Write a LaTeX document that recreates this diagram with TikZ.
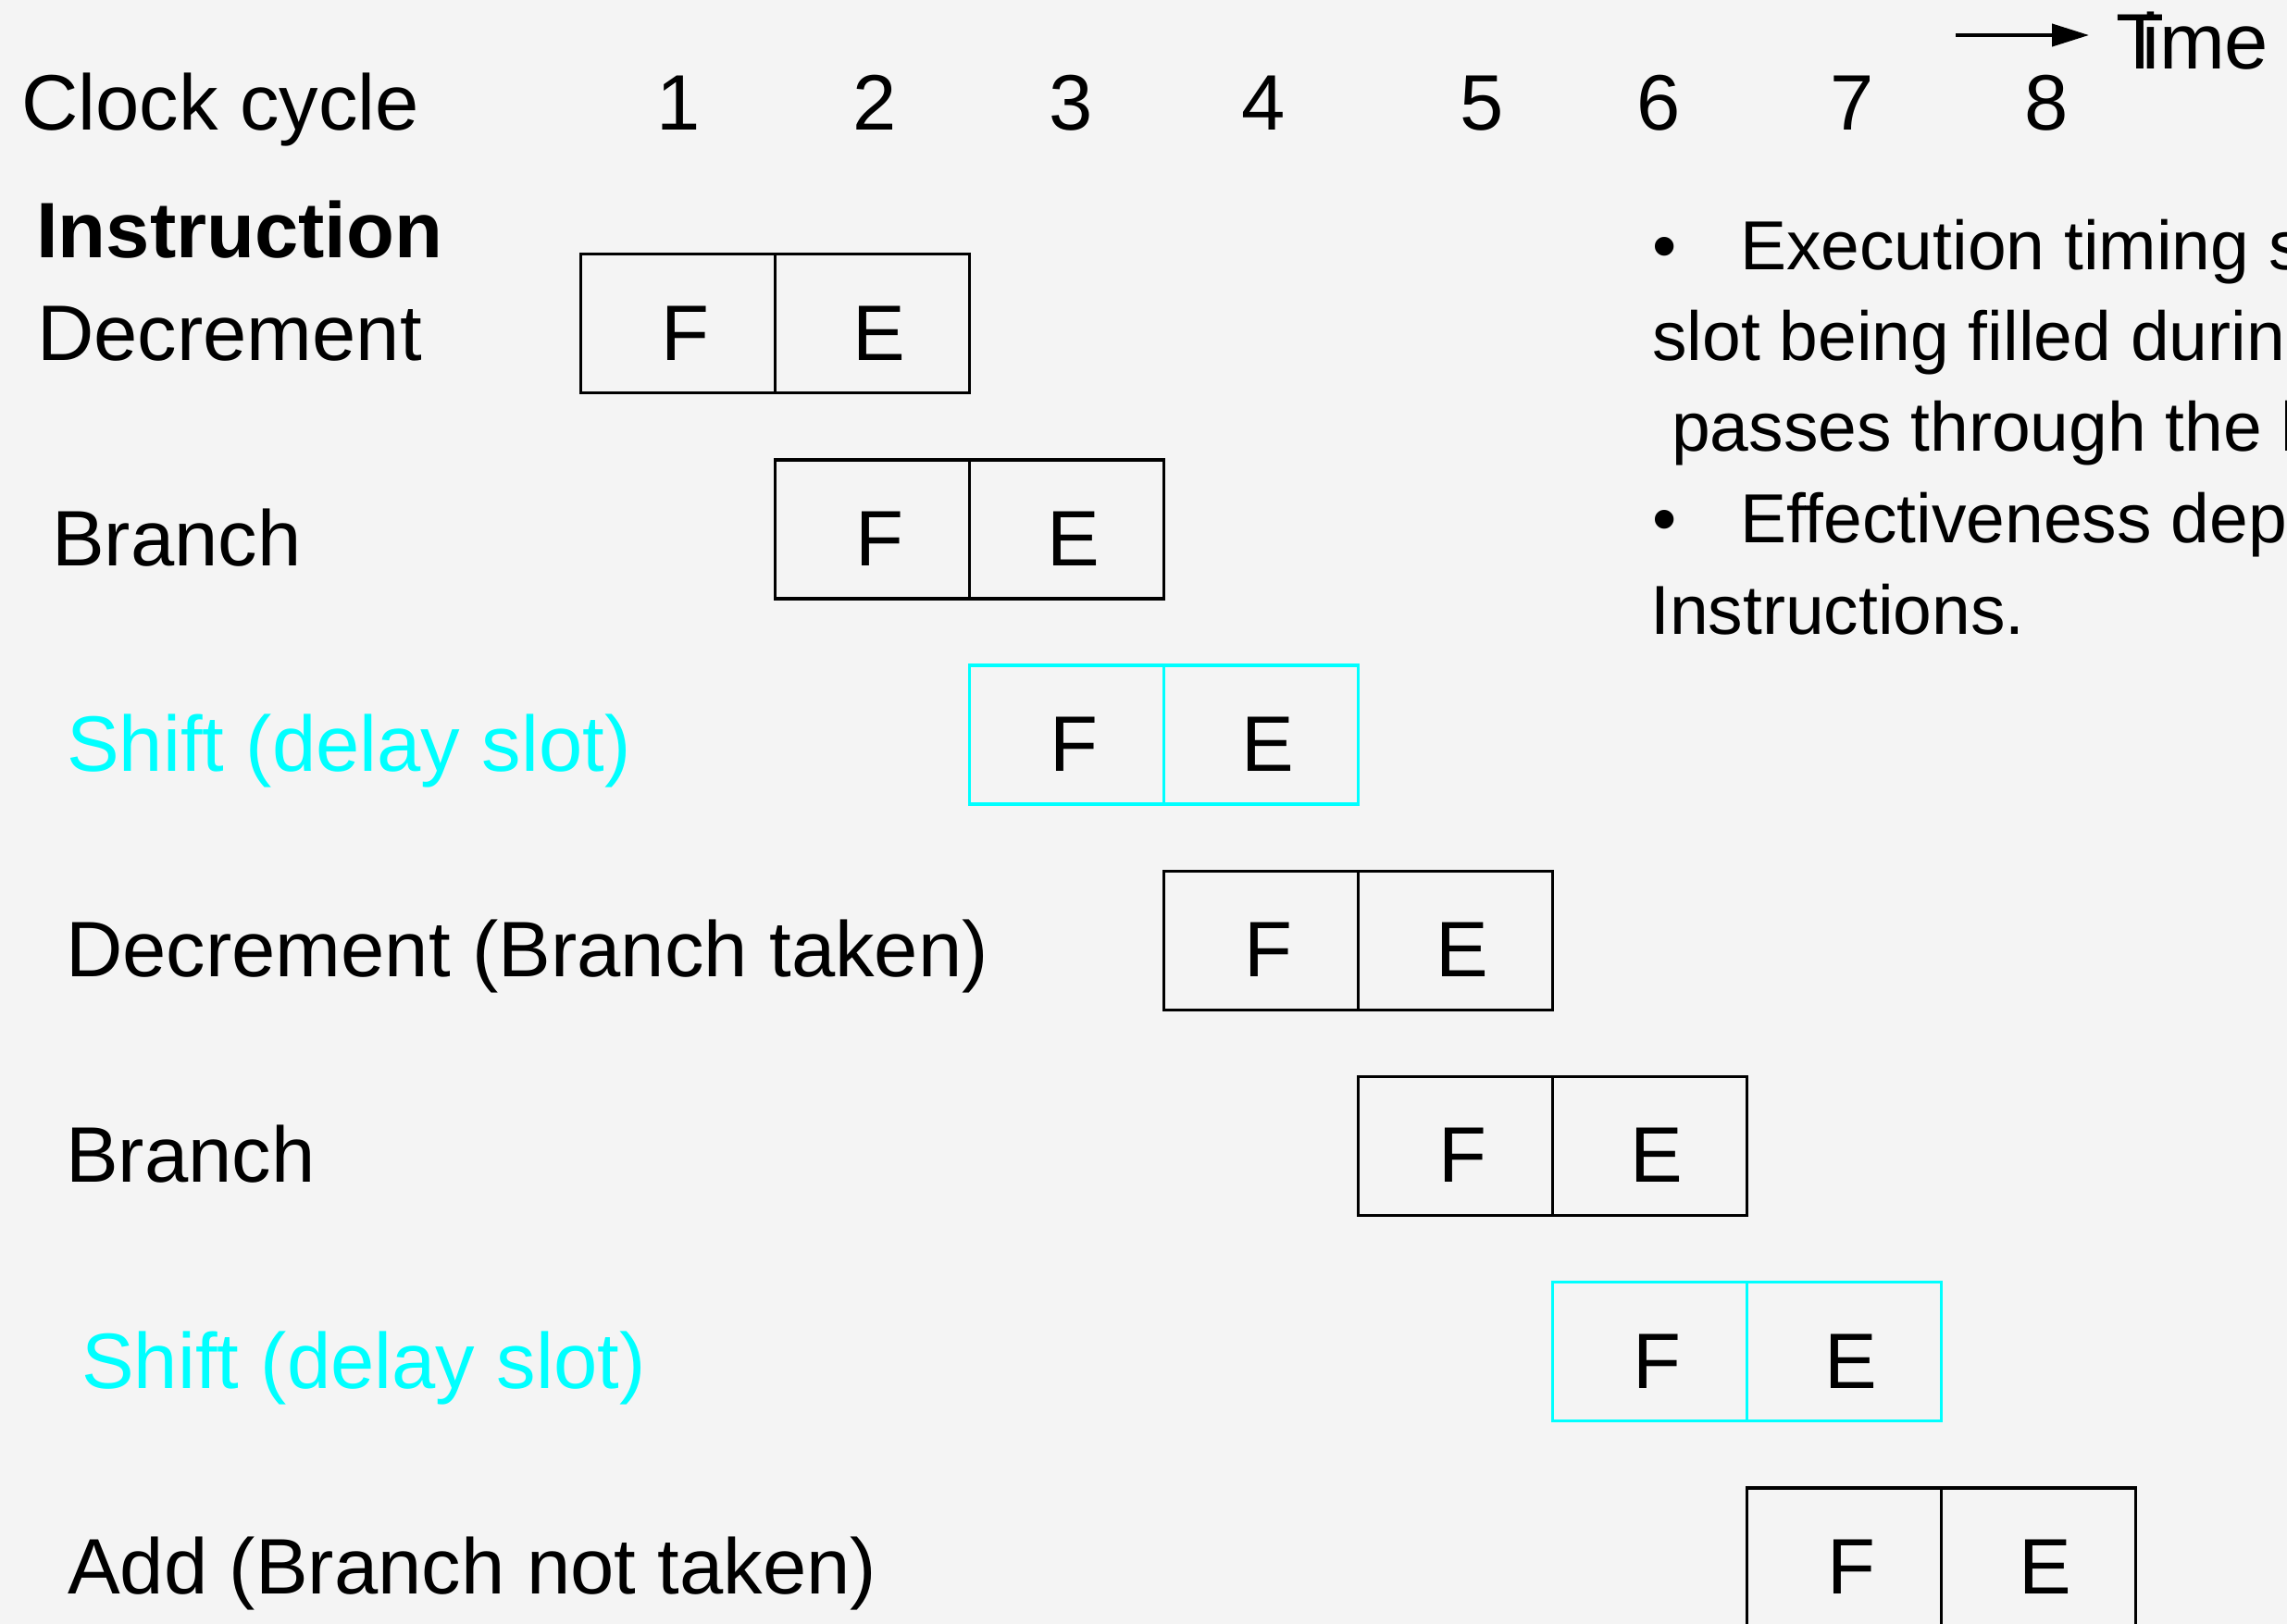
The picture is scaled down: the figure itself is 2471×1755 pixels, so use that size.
\documentclass[tikz,border=0pt]{standalone}
\usepackage{fontspec}
\setmainfont{Liberation Sans}
\usetikzlibrary{arrows.meta}
\definecolor{bg}{HTML}{F4F4F4}
\definecolor{slotc}{HTML}{00FFFF}
\begin{document}
\begin{tikzpicture}[x=1pt,y=-1pt,
  big/.style={font=\fontsize{85}{100}\selectfont, inner sep=0pt},
  note/.style={font=\fontsize{75}{90}\selectfont, inner sep=0pt, anchor=base west},
  cell/.style={draw=#1, line width=3.3pt, minimum width=210pt, minimum height=150pt, inner sep=0pt, anchor=north west},
  timearrow/.style={line width=4pt, -{Triangle[length=40pt,width=24pt]}, shorten >=29pt}]
\fill[bg] (0,0) rectangle (2471,1755);
\useasboundingbox (0,0) rectangle (2471,1755);

% header
\node[big, anchor=base west] (clk) at (23,141) {Clock cycle};
\foreach \n/\cx in {1/733,2/945,3/1157,4/1365,5/1601,6/1792,7/2001,8/2211}
  \node[big, anchor=base] (c\n) at (\cx,141) {\n};
\node[big, anchor=base west] (time) at (2286,75) {T\kern-24pt ime};
\coordinate (tstart) at (2113,38);
\draw[timearrow] (tstart) -- (tstart -| time.west);
\node[big, anchor=base west] (instr) at (39,278) {\bfseries Instruction};

% rows
\foreach \k/\lx/\txt/\col in {0/40/Decrement/black, 1/56/Branch/black, 2/72/Shift (delay slot)/slotc, 3/71/Decrement (Branch taken)/black, 4/71/Branch/black, 5/88/Shift (delay slot)/slotc, 6/73/Add (Branch not taken)/black}{
  \pgfmathsetmacro\tp{273+222.2*\k}
  \pgfmathsetmacro\xl{626+210*\k}
  \node[cell=\col] (f\k) at (\xl,\tp) {};
  \node[cell=\col] (e\k) at (\xl+210,\tp) {};
  \node[big, anchor=base] (fl\k) at (\xl+114,\tp+116) {F};
  \node[big, anchor=base] (el\k) at (\xl+324,\tp+116) {E};
  \node[big, anchor=base west, text=\col] (l\k) at (\lx,\tp+116) {\txt};
}

% notes
\node[note] (b1) at (1785,291) {•};
\node[note] (n1) at (1880,291) {Execution timing s};
\node[note] (n2) at (1785,389) {slot being filled during};
\node[note] (n3) at (1806,487) {passes through the l};
\node[note] (b2) at (1785,586) {•};
\node[note] (n4) at (1880,586) {Effectiveness dep};
\node[note] (n5) at (1783,685) {Instructions.};
\end{tikzpicture}
\end{document}
